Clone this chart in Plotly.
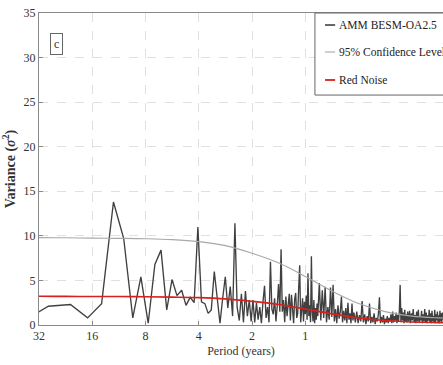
import math
import plotly.graph_objects as go

# ---------------- data ----------------
record_years = 85  # length of the AMM record (years)

# harmonic numbers of the periodogram points that are drawn
harm_a = list(range(2, 81))
harm_b = list(range(81, 101))
harm_c = list(range(102, 161, 2))
harm_d = list(range(163, 323, 3))
harm_e = list(range(326, 511, 4))

var_a = [0.05, 2.1, 2.3, 0.8, 2.4, 13.8, 9.7, 0.8, 5.4, 0.2,
         6.8, 8.4, 1.7, 5.1, 3.3, 3.9, 2.2, 3.1, 2.5, 11.0,
         2.6, 2.4, 1.3, 1.7, 6.0, 2.6, 0.2, 3.0, 5.4, 1.9,
         4.3, 1.0, 11.4, 2.0, 0.5, 3.5, 0.3, 3.8, 1.0, 2.8,
         0.4, 2.8, 0.3, 2.5, 0.6, 2.0, 0.2, 2.6, 4.4, 0.8,
         2.0, 0.3, 7.1, 1.8, 1.2, 3.0, 0.4, 2.2, 4.6, 1.5,
         8.5, 1.5, 2.8, 0.3, 3.2, 1.0, 2.7, 3.5, 0.5, 3.4,
         1.8, 0.2, 2.9, 3.6, 0.8, 1.3, 4.2, 6.7, 0.3]
var_b = [1.5, 3.0, 0.4, 2.6, 1.2, 3.3, 0.6, 5.8, 1.0, 2.2,
         0.3, 7.7, 1.5, 0.4, 2.8, 0.2, 1.9, 0.6, 2.4, 1.0]
var_c = [4.7, 0.5, 3.9, 0.8, 4.3, 0.3, 2.0, 0.6, 4.2, 0.9,
         4.5, 0.4, 1.8, 0.2, 2.2, 0.7, 1.5, 3.2, 0.3, 1.6,
         0.5, 1.9, 0.2, 2.5, 0.6, 1.3, 0.2, 2.4, 0.5, 1.4]
var_d = [0.3, 1.5, 0.2, 1.1, 0.4, 2.7, 0.3, 1.2, 0.1, 1.0,
         0.4, 2.4, 0.2, 0.9, 0.3, 1.3, 0.1, 0.8, 0.4, 1.2,
         3.1, 0.2, 0.9, 0.3, 1.1, 0.1, 0.7, 0.3, 1.0, 0.2,
         0.8, 0.4, 1.2, 0.2, 1.5, 0.3, 1.0, 0.5, 1.4, 0.2,
         1.1, 0.4, 1.6, 4.5, 0.3, 1.9, 0.5, 1.4, 0.2, 1.7,
         0.4, 1.2, 0.3, 1.5]
var_e = [0.4, 1.6, 0.2, 1.3, 0.5, 1.8, 0.3, 1.1, 0.2, 1.5,
         0.4, 1.7, 0.3, 1.0, 0.5, 1.6, 0.2, 1.2, 0.4, 1.8,
         0.3, 1.4, 0.2, 1.1, 0.5, 1.7, 0.3, 1.3, 0.2, 1.6,
         0.4, 1.0, 0.3, 1.7, 0.2, 1.2, 0.5, 1.5, 0.3, 1.1,
         0.2, 1.6, 0.4, 1.3, 0.3, 1.4, 0.6]

harmonics = harm_a + harm_b + harm_c + harm_d + harm_e
amm_variance = var_a + var_b + var_c + var_d + var_e
assert len(harmonics) == len(amm_variance), (len(harmonics), len(amm_variance))
amm_period = [record_years / k for k in harmonics]

curve_period = [42.5, 32, 22.6, 16, 11.3, 8, 5.66, 4, 2.83, 2, 1.41, 1,
                0.707, 0.5, 0.354, 0.25, 0.177, 0.1667]
conf95 = [9.8, 9.8, 9.78, 9.75, 9.72, 9.68, 9.58, 9.35, 8.9, 8.05, 6.95, 5.45,
          3.8, 2.4, 1.5, 1.0, 0.8, 0.78]
red_noise = [3.22, 3.22, 3.21, 3.2, 3.19, 3.17, 3.13, 3.07, 2.93, 2.65, 2.3, 1.8,
             1.25, 0.8, 0.5, 0.33, 0.27, 0.26]

period_ticks = [32, 16, 8, 4, 2, 1]
series_names = ["AMM BESM-OA2.5", "95% Confidence Level", "Red Noise"]
series_colors = ["#404040", "#a8a8a8", "#d8201c"]

# ---------------- figure ----------------
FONT = "Liberation Serif"
fig = go.Figure()
fig.add_trace(go.Scatter(x=amm_period, y=amm_variance, mode="lines",
                         name=series_names[0],
                         line=dict(color=series_colors[0], width=1.35)))
fig.add_trace(go.Scatter(x=curve_period, y=conf95, mode="lines",
                         name=series_names[1], line_shape="spline",
                         line=dict(color=series_colors[1], width=1.1)))
fig.add_trace(go.Scatter(x=curve_period, y=red_noise, mode="lines",
                         name=series_names[2], line_shape="spline",
                         line=dict(color=series_colors[2], width=1.6)))

fig.update_layout(
    width=443, height=365,
    margin=dict(l=39, r=0, t=13, b=40),
    paper_bgcolor="white", plot_bgcolor="white",
    showlegend=False,
    font=dict(family=FONT, size=12, color="#333"),
)
fig.update_xaxes(
    type="log", automargin=False,
    range=[math.log10(32), math.log10(record_years / 510)],
    tickvals=period_ticks, ticktext=[str(t) for t in period_ticks],
    tickfont=dict(family=FONT, size=12, color="#333"),
    showgrid=True, gridcolor="#e0e0e0", griddash="dash", gridwidth=1,
    showline=True, linecolor="#8a8a8a", linewidth=1, mirror=True,
    ticks="inside", ticklen=4, tickcolor="#8a8a8a",
    zeroline=False,
    title=dict(text="Period (years)", standoff=4,
               font=dict(family=FONT, size=12, color="#333")),
)
fig.update_yaxes(
    range=[0, 35], dtick=5, automargin=False,
    tickfont=dict(family=FONT, size=12, color="#333"),
    showgrid=True, gridcolor="#e0e0e0", griddash="dash", gridwidth=1,
    showline=True, linecolor="#8a8a8a", linewidth=1,
    ticks="inside", ticklen=4, tickcolor="#8a8a8a",
    zeroline=False,
    title=dict(text="<b>Variance (<i>σ</i><sup>2</sup>)</b>", standoff=5,
               font=dict(family=FONT, size=14, color="#333")),
)

# panel tag
fig.add_annotation(text="c", xref="paper", yref="paper", x=0.027, y=0.936,
                   showarrow=False, font=dict(family=FONT, size=12, color="#333"),
                   bordercolor="#666", borderwidth=1, borderpad=3, bgcolor="white")

# legend box (cropped on the right as in the original)
fig.add_shape(type="rect", xref="paper", yref="paper", x0=0.683, x1=1.05,
              y0=0.737, y1=1.0, line=dict(color="#666", width=1),
              fillcolor="white", layer="above")
legend_y = [0.9615, 0.875, 0.7853]
for name, color, yy, w in zip(series_names, series_colors, legend_y, [1.6, 1.1, 1.8]):
    fig.add_shape(type="line", xref="paper", yref="paper", x0=0.708, x1=0.733,
                  y0=yy, y1=yy, line=dict(color=color, width=w), layer="above")
    fig.add_annotation(text=name, xref="paper", yref="paper", x=0.7364, y=yy,
                       xanchor="left", yanchor="middle", showarrow=False,
                       font=dict(family=FONT, size=11.5, color="#222"))

fig.write_html("out.html",
               config={"displayModeBar": False},
               post_script="document.body.style.margin='0';"
                           "document.body.style.overflow='hidden';")
